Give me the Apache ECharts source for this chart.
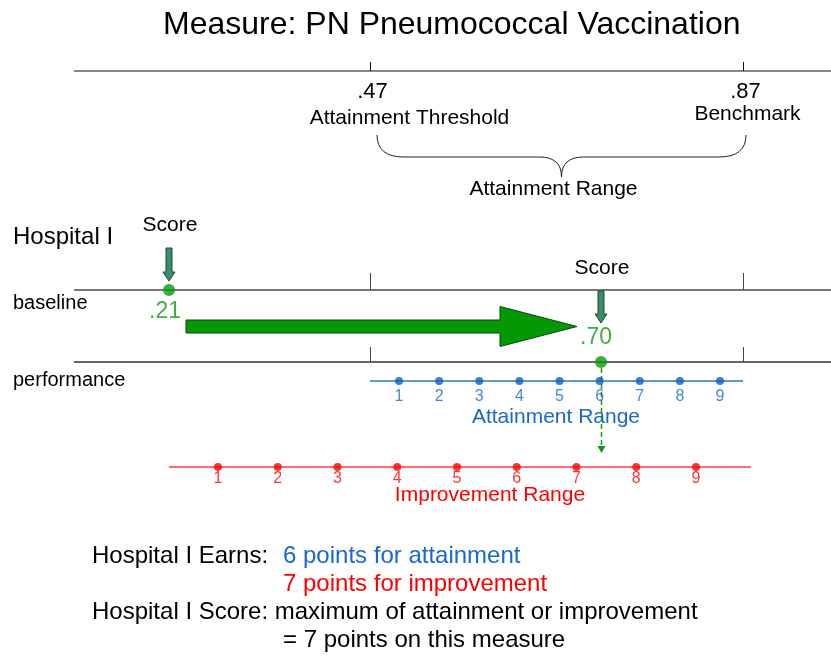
<!DOCTYPE html>
<html>

<head>
  <meta charset="utf-8">
  <title>PN Pneumococcal Vaccination</title>
  <script src="https://cdn.jsdelivr.net/npm/echarts@6/dist/echarts.min.js"></script>
</head>
<style>
  * {
    padding: 0;
    margin: 0;
  }

  #main {
    width: 831px;
    height: 656px;
    overflow: hidden;
    position: absolute
  }
</style>

<body>
  <div id="main"></div>
  <script type="text/javascript">
    // data
    var measureName = 'PN Pneumococcal Vaccination';
    var hospitalName = 'Hospital I';
    var thresholdValues = [0.47, 0.87];
    var thresholdNames = ['Attainment Threshold', 'Benchmark'];
    var periodNames = ['baseline', 'performance'];
    var hospitalScores = [0.21, 0.70];
    var attainmentPoints = [1, 2, 3, 4, 5, 6, 7, 8, 9];
    var improvementPoints = [1, 2, 3, 4, 5, 6, 7, 8, 9];
    var earnedPoints = [6, 7]; // attainment, improvement

    var W = 831;
    var FONT = "'Liberation Sans', Arial, sans-serif";
    var GREEN = '#129a12';
    var BLUE = '#1868cf';
    var RED = '#ff0000';
    // y of each row, in page pixels
    var ROW = { top: 71, base: 290, perf: 362, att: 381, imp: 467 };

    function fmt(v) {
      return v.toFixed(2).replace(/^0/, '');
    }
    function font(size) {
      return size + 'px ' + FONT;
    }
    // the drawing is schematic: each number line gets its own scale
    function span(v1, p1, v2, p2) {
      var k = (p2 - p1) / (v2 - v1);
      return { type: 'value', show: false, min: v1 - p1 / k, max: v1 + (W - p1) / k };
    }
    function txt(x, y, text, size, color, align) {
      return {
        type: 'text', x: x, y: y,
        style: {
          text: text, font: font(size), fill: color || '#000',
          textAlign: align || 'left', textVerticalAlign: 'middle'
        }
      };
    }

    var myChart = echarts.init(document.getElementById('main'));

    var option = {
      animation: false,
      backgroundColor: '#fff',
      textStyle: { fontFamily: FONT },
      title: {
        text: 'Measure: ' + measureName,
        left: 163, top: 9, padding: 0,
        textStyle: { fontSize: 32, fontWeight: 'normal', color: '#000', fontFamily: FONT }
      },
      grid: { left: 0, right: 0, top: 0, bottom: 0, outerBoundsMode: 'none' },
      xAxis: [
        span(thresholdValues[0], 370, thresholdValues[1], 743),
        span(hospitalScores[0], 169, hospitalScores[1], 601),
        span(1, 399, 9, 720),
        span(1, 218, 9, 696)
      ],
      yAxis: { type: 'value', show: false, min: 0, max: 656, inverse: true },
      graphic: [
        { type: 'line', shape: { x1: 74, y1: ROW.top, x2: W, y2: ROW.top }, style: { stroke: '#111', lineWidth: 1 } },
        { type: 'line', shape: { x1: 74, y1: ROW.base, x2: W, y2: ROW.base }, style: { stroke: '#777', lineWidth: 2 } },
        { type: 'line', shape: { x1: 74, y1: ROW.perf, x2: W, y2: ROW.perf }, style: { stroke: '#333', lineWidth: 1.5 } },
        txt(13, 237, hospitalName, 24),
        txt(13, 303, periodNames[0], 20),
        txt(13, 380, periodNames[1], 20),
        txt(556, 417, 'Attainment Range', 21, BLUE, 'center'),
        txt(490, 495, 'Improvement Range', 21, RED, 'center'),
        txt(92, 556, hospitalName + ' Earns:', 24),
        txt(283, 556, earnedPoints[0] + ' points for attainment', 24, BLUE),
        txt(283, 584, earnedPoints[1] + ' points for improvement', 24, RED),
        txt(92, 612, hospitalName + ' Score: maximum of attainment or improvement', 24),
        txt(283, 640, '= ' + Math.max.apply(null, earnedPoints) + ' points on this measure', 24)
      ],
      series: [
        {
          // threshold / benchmark ticks and names
          type: 'custom', xAxisIndex: 0, z: 3,
          data: thresholdValues.map(function (v, i) { return [v, i]; }),
          renderItem: function (params, api) {
            var i = params.dataIndex;
            var v = api.value(0);
            var x = Math.round(api.coord([v, 0])[0]) + 0.5;
            var nameX = [x + 39, x + 4][i];
            var nameY = [118, 114][i];
            var tick = function (y1, y2, c) {
              return { type: 'line', shape: { x1: x, y1: y1, x2: x, y2: y2 }, style: { stroke: c, lineWidth: 1 } };
            };
            return {
              type: 'group', children: [
                tick(62, ROW.top, '#111'),
                tick(273, ROW.base, '#444'),
                tick(347, ROW.perf, '#444'),
                { type: 'text', style: { text: fmt(v), x: x + 2, y: 92, font: font(22), fill: '#000', textAlign: 'center', textVerticalAlign: 'middle' } },
                { type: 'text', style: { text: thresholdNames[i], x: nameX, y: nameY, font: font(21), fill: '#000', textAlign: 'center', textVerticalAlign: 'middle' } }
              ]
            };
          }
        },
        {
          // brace spanning the attainment range
          type: 'custom', xAxisIndex: 0, z: 3,
          data: [[thresholdValues[0], thresholdValues[1]]],
          renderItem: function (params, api) {
            var x0 = api.coord([api.value(0), 0])[0] + 7;
            var x1 = api.coord([api.value(1), 0])[0] + 3;
            var m = (x0 + x1) / 2;
            var yt = 135, yh = 157, yp = 177;
            var d = 'M' + x0 + ' ' + yt + ' Q' + x0 + ' ' + yh + ' ' + (x0 + 27) + ' ' + yh +
              ' L' + (m - 22) + ' ' + yh + ' Q' + m + ' ' + yh + ' ' + m + ' ' + yp +
              ' Q' + m + ' ' + yh + ' ' + (m + 22) + ' ' + yh +
              ' L' + (x1 - 27) + ' ' + yh + ' Q' + x1 + ' ' + yh + ' ' + x1 + ' ' + yt;
            return {
              type: 'group', children: [
                { type: 'path', shape: { pathData: d }, style: { stroke: '#222', lineWidth: 1, fill: null } },
                { type: 'text', style: { text: 'Attainment Range', x: m - 8, y: 189, font: font(21), fill: '#000', textAlign: 'center', textVerticalAlign: 'middle' } }
              ]
            };
          }
        },
        {
          // "Score" pointers
          type: 'custom', xAxisIndex: 1, z: 4,
          data: hospitalScores.map(function (v, i) { return [v, i]; }),
          renderItem: function (params, api) {
            var i = params.dataIndex;
            var x = api.coord([api.value(0), 0])[0];
            var y0 = [248, 291][i], yt = [281, 323][i], yh = yt - 9;
            return {
              type: 'group', children: [
                {
                  type: 'polygon',
                  shape: { points: [[x - 3, y0], [x + 3, y0], [x + 3, yh], [x + 6, yh], [x, yt], [x - 6, yh], [x - 3, yh]] },
                  style: { fill: '#3c8d67', stroke: '#1d4a36', lineWidth: 1 }
                },
                { type: 'text', style: { text: 'Score', x: x + 1, y: [225, 268][i], font: font(21), fill: '#000', textAlign: 'center', textVerticalAlign: 'middle' } }
              ]
            };
          }
        },
        {
          // big improvement arrow
          type: 'custom', xAxisIndex: 1, z: 3,
          data: [[hospitalScores[0], hospitalScores[1]]],
          renderItem: function (params, api) {
            var xs = api.coord([api.value(0), 0])[0] + 17;
            var xe = api.coord([api.value(1), 0])[0] - 24;
            var xh = xe - 77, y = 326.5;
            return {
              type: 'polygon',
              shape: { points: [[xs, y - 6.5], [xh, y - 6.5], [xh, y - 20], [xe, y], [xh, y + 20], [xh, y + 6.5], [xs, y + 6.5]] },
              style: { fill: '#049904', stroke: '#0c440c', lineWidth: 1 }
            };
          }
        },
        {
          // drop line from the performance score to the improvement range
          type: 'custom', xAxisIndex: 1, z: 2,
          data: [[hospitalScores[1]]],
          renderItem: function (params, api) {
            var x = Math.round(api.coord([api.value(0), 0])[0]) + 0.5;
            return {
              type: 'group', children: [
                { type: 'line', shape: { x1: x, y1: 368, x2: x, y2: 446 }, style: { stroke: GREEN, lineWidth: 1.5, lineDash: [5, 3] } },
                { type: 'polygon', shape: { points: [[x - 4, 446], [x + 4, 446], [x, 453]] }, style: { fill: GREEN } }
              ]
            };
          }
        },
        {
          type: 'line', xAxisIndex: 0, symbol: 'none', silent: true, z: 2,
          lineStyle: { color: '#5b9bd5', width: 2 },
          data: thresholdValues.map(function (v) { return [v, ROW.att]; })
        },
        {
          type: 'scatter', xAxisIndex: 2, symbolSize: 8, z: 3,
          itemStyle: { color: '#0b62c6' },
          label: { show: true, position: 'bottom', distance: 4, formatter: '{@[0]}', color: BLUE, fontSize: 16, fontFamily: FONT },
          data: attainmentPoints.map(function (p) { return [p, ROW.att]; })
        },
        {
          type: 'line', xAxisIndex: 1, symbol: 'none', silent: true, z: 2,
          lineStyle: { color: '#ff3b3b', width: 1.5 },
          data: [[hospitalScores[0], ROW.imp], [thresholdValues[1], ROW.imp]]
        },
        {
          type: 'scatter', xAxisIndex: 3, symbolSize: 8, z: 3,
          itemStyle: { color: RED },
          label: { show: true, position: 'bottom', distance: 0, formatter: '{@[0]}', color: RED, fontSize: 16, fontFamily: FONT },
          data: improvementPoints.map(function (p) { return [p, ROW.imp]; })
        },
        {
          type: 'scatter', xAxisIndex: 1, symbolSize: 12, z: 5,
          itemStyle: { color: '#0a990a' },
          label: { show: true, formatter: function (p) { return fmt(p.value[0]); }, color: GREEN, fontSize: 23, fontFamily: FONT },
          data: [
            { value: [hospitalScores[0], ROW.base], label: { position: 'bottom', distance: 4, offset: [-4, 0] } },
            { value: [hospitalScores[1], ROW.perf], label: { position: 'top', distance: 7, offset: [-5, 0] } }
          ]
        }
      ]
    };

    myChart.setOption(option);
  </script>
</body>

</html>
